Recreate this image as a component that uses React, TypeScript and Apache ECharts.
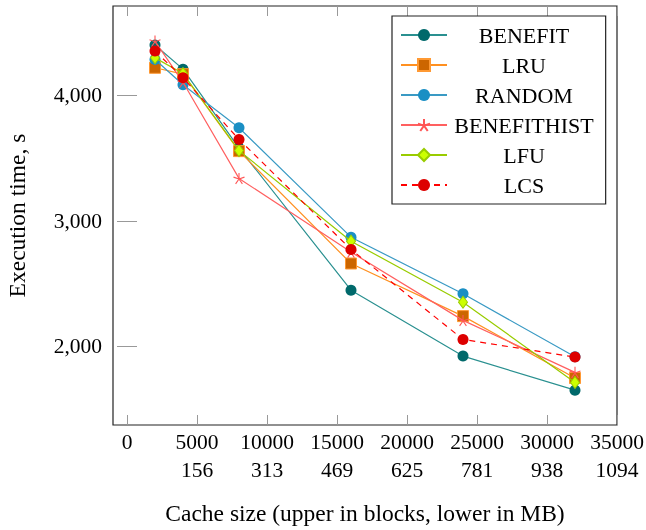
import React, { useEffect, useRef } from 'react';
import * as echarts from 'echarts';

const cacheBlocks = [2000, 4000, 8000, 16000, 24000, 32000];
const seriesNames = ['BENEFIT', 'LRU', 'RANDOM', 'BENEFITHIST', 'LFU', 'LCS'];
const benefit = [4403, 4210, 3580, 2446, 1920, 1648];
const lru = [4221, 4170, 3556, 2659, 2239, 1745];
const random = [4287, 4085, 3742, 2869, 2417, 1915];
const benefitHist = [4434, 4105, 3338, 2750, 2205, 1790];
const lfu = [4300, 4175, 3560, 2837, 2350, 1710];
const lcs = [4354, 4141, 3649, 2771, 2053, 1912];

const xTickValues = [0, 5000, 10000, 15000, 20000, 25000, 30000, 35000];
const xTickMB = ['', '156', '313', '469', '625', '781', '938', '1094'];
const yTickValues = [2000, 3000, 4000];
const yTickLabels = ['2,000', '3,000', '4,000'];

const FONT = 'Liberation Serif';
const STAR = 'path://M0,0 L0,-1 M0,0 L0.951,-0.309 M0,0 L0.588,0.809 M0,0 L-0.588,0.809 M0,0 L-0.951,-0.309';

export default function App() {
  const ref = useRef<HTMLDivElement>(null);
  useEffect(() => {
    if (!ref.current) return;
    const chart = echarts.init(ref.current, undefined, { renderer: 'svg' });
    const pts = (vals: number[]) => cacheBlocks.map((x, i) => [x, vals[i]]);
    const tick = { show: true, inside: true, length: 10, lineStyle: { color: '#999', width: 1 } };
    const mk = (
      name: string,
      vals: number[],
      line: string,
      symbol: string,
      size: any,
      fill: string,
      border: string,
      borderWidth: number,
      dashed = false,
      z = 2
    ) => ({
      name,
      type: 'line',
      data: pts(vals),
      xAxisIndex: 0,
      yAxisIndex: 0,
      symbol,
      symbolSize: size,
      showAllSymbol: true,
      lineStyle: { color: line, width: 1.2, type: dashed ? [6, 5] : 'solid' },
      itemStyle: { color: fill, borderColor: border, borderWidth },
      z,
    });
    chart.setOption({
      animation: false,
      textStyle: { fontFamily: FONT },
      grid: {
        left: 113,
        top: 6,
        right: 29,
        bottom: 105,
        show: true,
        borderColor: '#222',
        borderWidth: 1.2,
        backgroundColor: 'transparent',
        containLabel: false,
        outerBoundsMode: 'none',
      },
      legend: {
        orient: 'vertical',
        left: 392,
        top: 16,
        padding: [8, 12, 8, 8],
        itemWidth: 46,
        itemHeight: 15,
        itemGap: 8,
        backgroundColor: '#fff',
        borderColor: '#222',
        borderWidth: 1.2,
        data: seriesNames,
        formatter: '{a|{name}}',
        textStyle: {
          fontFamily: FONT,
          fontSize: 22,
          color: '#000',
          rich: {
            a: { width: 144, align: 'center', fontSize: 22, fontFamily: FONT, color: '#000' },
          },
        },
      },
      xAxis: [
        {
          type: 'value',
          min: -1000,
          max: 35000,
          position: 'bottom',
          axisLine: { show: false },
          splitLine: { show: false },
          axisTick: { ...tick, customValues: xTickValues },
          axisLabel: {
            customValues: xTickValues,
            fontFamily: FONT,
            fontSize: 21.5,
            color: '#000',
            lineHeight: 28,
            margin: 3,
            formatter: (v: number) => {
              const i = xTickValues.indexOf(v);
              return xTickMB[i] ? `${v}\n${xTickMB[i]}` : `${v}`;
            },
          },
          name: 'Cache size (upper in blocks, lower in MB)',
          nameLocation: 'middle',
          nameGap: 76,
          nameTextStyle: { fontFamily: FONT, fontSize: 23.5, color: '#000' },
        },
        {
          type: 'value',
          min: -1000,
          max: 35000,
          position: 'top',
          axisLine: { show: false },
          splitLine: { show: false },
          axisTick: { ...tick, customValues: xTickValues },
          axisLabel: { show: false },
        },
      ],
      yAxis: [
        {
          type: 'value',
          min: 1370,
          max: 4714,
          position: 'left',
          axisLine: { show: false },
          splitLine: { show: false },
          axisTick: { ...tick, customValues: yTickValues },
          axisLabel: {
            customValues: yTickValues,
            fontFamily: FONT,
            fontSize: 21.5,
            color: '#000',
            margin: 11,
            formatter: (v: number) => yTickLabels[yTickValues.indexOf(v)] ?? `${v}`,
          },
          name: 'Execution time, s',
          nameLocation: 'middle',
          nameGap: 84,
          nameTextStyle: { fontFamily: FONT, fontSize: 23.5, color: '#000' },
        },
        {
          type: 'value',
          min: 1370,
          max: 4714,
          position: 'right',
          axisLine: { show: false },
          splitLine: { show: false },
          axisTick: { ...tick, customValues: yTickValues },
          axisLabel: { show: false },
        },
      ],
      series: [
        mk('BENEFIT', benefit, '#2a9090', 'circle', 11, '#00696b', '#00696b', 0, false, 2),
        mk('LRU', lru, '#ff9020', 'rect', 11, '#cc6600', '#ff9933', 1, false, 3),
        mk('RANDOM', random, '#3a9ac4', 'circle', 11, '#1a8fc4', '#1a8fc4', 0, false, 4),
        mk('BENEFITHIST', benefitHist, '#ff6060', STAR, 11, 'rgba(0,0,0,0)', '#ff5555', 1.1, false, 5),
        mk('LFU', lfu, '#99cc00', 'diamond', [9, 12], '#ccff00', '#99cc00', 1, false, 6),
        mk('LCS', lcs, '#ff0000', 'circle', 11, '#dd0000', '#dd0000', 0, true, 7),
      ],
    });
    return () => chart.dispose();
  }, []);
  return <div ref={ref} style={{ position: 'fixed', left: 0, top: 0, width: 646, height: 530 }} />;
}
